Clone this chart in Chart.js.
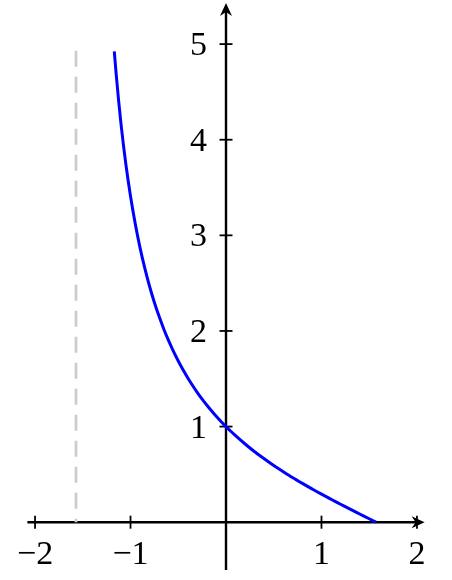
<!DOCTYPE html>
<html>
<head>
<meta charset="utf-8">
<script src="https://cdn.jsdelivr.net/npm/chart.js@4/dist/chart.umd.min.js"></script>
<style>
  html, body { margin: 0; padding: 0; background: #ffffff; }
  #wrap { width: 452px; height: 580px; }
</style>
</head>
<body>
<div id="wrap"><canvas id="c" width="452" height="580"></canvas></div>
<script>
// Curve values
const curveX = [-1.17, -1.15, -1.125, -1.1, -1.075, -1.05, -1.025, -1.0, -0.95, -0.9, -0.85, -0.8, -0.75, -0.7, -0.65, -0.6, -0.55, -0.5, -0.45, -0.4, -0.35, -0.3, -0.25, -0.2, -0.15, -0.1, -0.05, 0, 0.05, 0.1, 0.2, 0.3, 0.4, 0.5, 0.6, 0.7, 0.8, 0.9, 1.0, 1.1, 1.2, 1.3, 1.4, 1.5, 1.5708];
const curveY = [4.923, 4.683, 4.412, 4.169, 3.951, 3.753, 3.573, 3.408, 3.118, 2.869, 2.654, 2.465, 2.298, 2.150, 2.016, 1.896, 1.786, 1.686, 1.594, 1.509, 1.430, 1.356, 1.287, 1.223, 1.163, 1.105, 1.051, 1.000, 0.951, 0.905, 0.818, 0.737, 0.663, 0.593, 0.528, 0.465, 0.406, 0.349, 0.293, 0.240, 0.188, 0.136, 0.086, 0.036, 0];
// Vertical dashed asymptote
const asymptoteX = [-1.5708, -1.5708];
const asymptoteY = [4.93, 0];
// Tick labels
const xTickValues = [-2, -1, 1, 2];
const xTickLabels = ["\u22122", "\u22121", "1", "2"];
const yTickValues = [1, 2, 3, 4, 5];
const yTickLabels = ["1", "2", "3", "4", "5"];

const FONT = '34px "Liberation Serif", "DejaVu Serif", serif';

const axesPlugin = {
  id: 'axesPlugin',
  beforeDatasetsDraw(chart) {
    const ctx = chart.ctx;
    const xs = chart.scales.x, ys = chart.scales.y;
    const x0 = xs.getPixelForValue(0), y0 = ys.getPixelForValue(0);
    const left = chart.chartArea.left, right = chart.chartArea.right;
    const top = chart.chartArea.top, bottom = chart.chartArea.bottom;
    ctx.save();
    ctx.strokeStyle = '#000';
    ctx.fillStyle = '#000';
    ctx.lineWidth = 2.4;
    // x axis
    ctx.beginPath();
    ctx.moveTo(left, y0); ctx.lineTo(right - 4, y0); ctx.stroke();
    // y axis
    ctx.beginPath();
    ctx.moveTo(x0, bottom); ctx.lineTo(x0, top + 4); ctx.stroke();
    // arrowheads
    function arrow(tx, ty, dx, dy) {
      const L = 13, W = 6, back = 4;
      const px = -dy, py = dx;
      ctx.beginPath();
      ctx.moveTo(tx, ty);
      ctx.lineTo(tx - dx * L + px * W, ty - dy * L + py * W);
      ctx.lineTo(tx - dx * (L - back), ty - dy * (L - back));
      ctx.lineTo(tx - dx * L - px * W, ty - dy * L - py * W);
      ctx.closePath();
      ctx.fill();
    }
    arrow(right, y0, 1, 0);
    arrow(x0, top, 0, -1);
    // ticks
    ctx.lineWidth = 1.8;
    xTickValues.forEach(v => {
      const p = xs.getPixelForValue(v);
      ctx.beginPath(); ctx.moveTo(p, y0 - 6.5); ctx.lineTo(p, y0 + 6.5); ctx.stroke();
    });
    yTickValues.forEach(v => {
      const p = ys.getPixelForValue(v);
      ctx.beginPath(); ctx.moveTo(x0 - 6.5, p); ctx.lineTo(x0 + 6.5, p); ctx.stroke();
    });
    // labels
    ctx.font = FONT;
    ctx.textAlign = 'center';
    ctx.textBaseline = 'alphabetic';
    xTickValues.forEach((v, i) => {
      ctx.fillText(xTickLabels[i], xs.getPixelForValue(v), y0 + 42);
    });
    ctx.textAlign = 'right';
    yTickValues.forEach((v, i) => {
      ctx.fillText(yTickLabels[i], x0 - 19, ys.getPixelForValue(v) + 11);
    });
    ctx.restore();
  }
};

new Chart(document.getElementById('c'), {
  type: 'scatter',
  data: {
    datasets: [
      {
        data: asymptoteX.map((x, i) => ({ x: x, y: asymptoteY[i] })),
        showLine: true,
        borderColor: '#cccccc',
        borderWidth: 2.8,
        borderDash: [16, 10],
        pointRadius: 0,
        fill: false
      },
      {
        data: curveX.map((x, i) => ({ x: x, y: curveY[i] })),
        showLine: true,
        borderColor: '#0000ff',
        borderWidth: 3,
        cubicInterpolationMode: 'monotone',
        pointRadius: 0,
        fill: false
      }
    ]
  },
  options: {
    responsive: false,
    animation: false,
    events: [],
    layout: { padding: { left: 27.4, right: 27.4, top: 3, bottom: 10 } },
    plugins: { legend: { display: false }, tooltip: { enabled: false } },
    scales: {
      x: { type: 'linear', min: -2.08, max: 2.08, display: false },
      y: { type: 'linear', min: -0.5, max: 5.43, display: false }
    }
  },
  plugins: [axesPlugin]
});
</script>
</body>
</html>
